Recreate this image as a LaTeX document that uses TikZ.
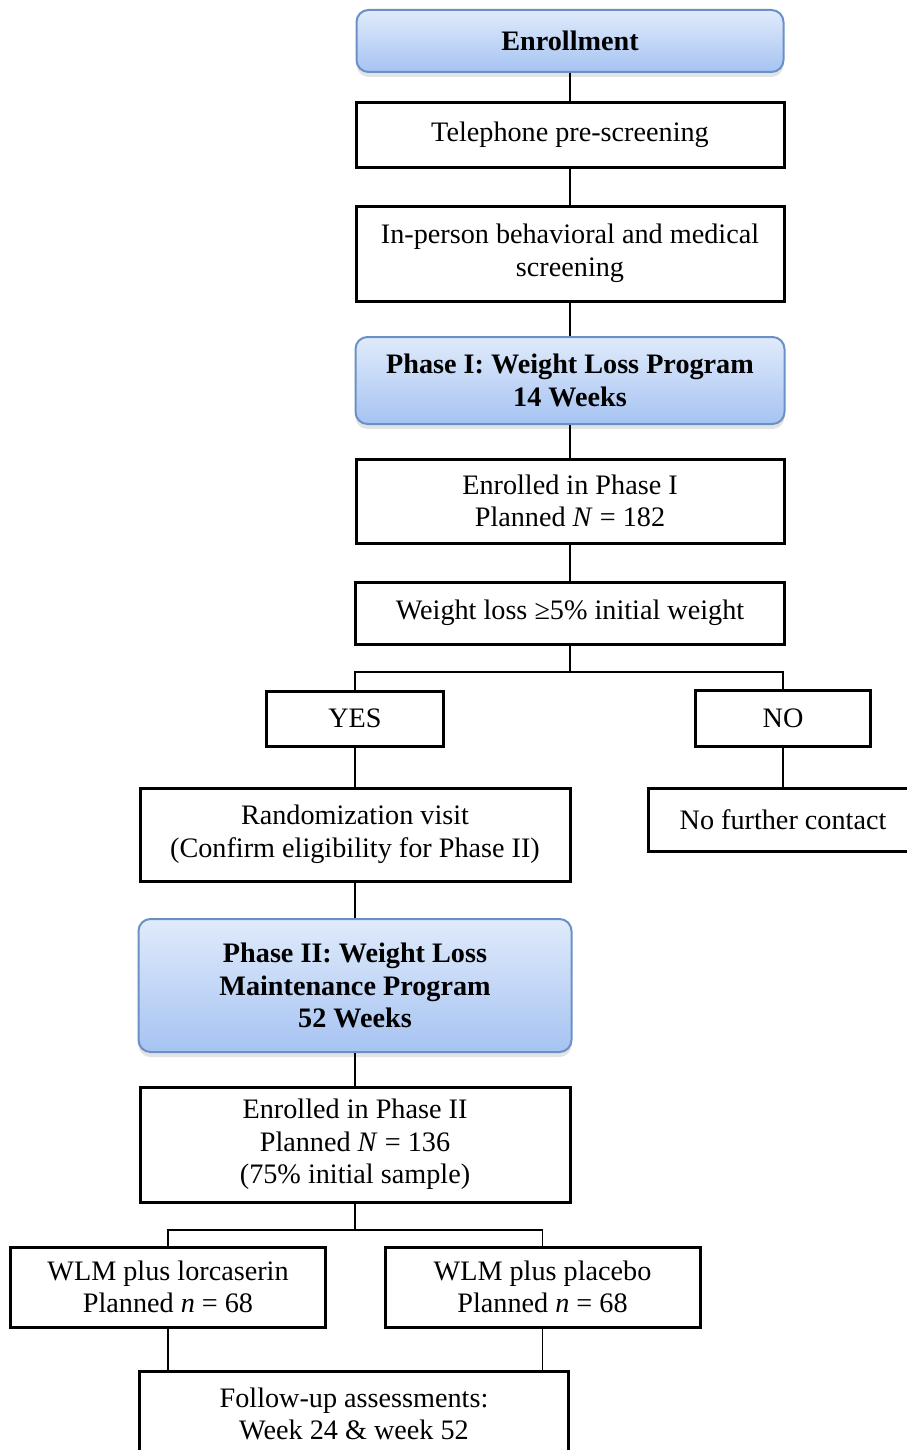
\documentclass[tikz,border=0pt]{standalone}
\usepackage{fontspec}
\setmainfont{Liberation Serif}
\usetikzlibrary{positioning}
\usetikzlibrary{shadows}
\definecolor{phase_top}{HTML}{E0EBFB}
\definecolor{phase_bottom}{HTML}{A6C3F2}
\definecolor{phase_edge}{HTML}{6A90C6}
\newdimen\pu \pu=0.5pt
\newcommand{\boxfont}{\fontsize{14.1pt}{16.3pt}\selectfont}
\begin{document}
\begin{tikzpicture}[
	    x=0.5pt, y=-0.5pt,
	    box/.style={rectangle, draw, line width=1.5pt, inner sep=0pt, align=center, font=\boxfont},
	    phasebox/.style={box, rounded corners=6pt, draw=phase_edge, line width=1pt, font=\boxfont\bfseries,
	        top color=phase_top, bottom color=phase_bottom,
	        drop shadow={shadow xshift=0pt, shadow yshift=-2.5pt, opacity=0.22}},
	    normalline/.style={line width=0.9pt},
	]
		\useasboundingbox (0,0) rectangle (906,1450);

		\node[phasebox, minimum width=427\pu, minimum height=62\pu] (enroll) at (570,41) {Enrollment};
		\node[box, minimum width=428\pu, minimum height=64\pu] (phone) at (570,135) {Telephone pre-screening};
		\node[box, minimum width=428\pu, minimum height=95\pu] (screen) at (570,253.5) {In-person behavioral and medical\\screening};
		\node[phasebox, minimum width=429\pu, minimum height=87\pu] (phaseone) at (570,380.5) {Phase I: Weight Loss Program\\14 Weeks};
		\node[box, minimum width=428\pu, minimum height=84\pu] (enrolone) at (570,501) {Enrolled in Phase I\\Planned \textit{N} = 182};
		\node[box, minimum width=429\pu, minimum height=62\pu] (loss) at (570,613) {Weight loss ≥5\% initial weight};

		\node[box, minimum width=177\pu, minimum height=55\pu] (yes) at (355,718.5) {YES};
		\node[box, minimum width=175\pu, minimum height=56\pu] (no) at (783,718) {NO};
		\node[box, minimum width=430\pu, minimum height=93\pu] (random) at (355,834.5) {Randomization visit\\(Confirm eligibility for Phase II)};
		\node[box, minimum width=270\pu, minimum height=63\pu] (nocontact) at (783,819.5) {No further contact};

		\node[phasebox, minimum width=433\pu, minimum height=133\pu] (phasetwo) at (355,985.5) {Phase II: Weight Loss\\Maintenance Program\\52 Weeks};
		\node[box, minimum width=430\pu, minimum height=115\pu] (enroltwo) at (355,1144.5) {Enrolled in Phase II\\Planned \textit{N} = 136\\(75\% initial sample)};

		\node[box, minimum width=315\pu, minimum height=80\pu] (lorc) at (168,1287) {WLM plus lorcaserin\\Planned \textit{n} = 68};
		\node[box, minimum width=315\pu, minimum height=80\pu] (placebo) at (542.5,1287) {WLM plus placebo\\Planned \textit{n} = 68};
		\node[box, minimum width=429\pu, minimum height=86\pu] (follow) at (354,1414) {Follow-up assessments:\\Week 24 \& week 52};

		\coordinate (splitone) at (570,672);
		\coordinate (splittwo) at (355,1230);

		\draw [normalline] (enroll) -- (phone);
		\draw [normalline] (phone) -- (screen);
		\draw [normalline] (screen) -- (phaseone);
		\draw [normalline] (phaseone) -- (enrolone);
		\draw [normalline] (enrolone) -- (loss);
		\draw [normalline] (loss) -- (splitone);
		\draw [normalline] (splitone) -| (yes);
		\draw [normalline] (splitone) -| (no);
		\draw [normalline] (no) -- (nocontact);
		\draw [normalline] (yes) -- (random);
		\draw [normalline] (random) -- (phasetwo);
		\draw [normalline] (phasetwo) -- (enroltwo);
		\draw [normalline] (enroltwo) -- (splittwo);
		\draw [normalline] (splittwo) -| (lorc);
		\draw [normalline] (splittwo) -| (placebo);
		\draw [normalline] (lorc) -- (lorc |- follow.north);
		\draw [normalline] (placebo) -- (placebo |- follow.north);
	\end{tikzpicture}
\end{document}
